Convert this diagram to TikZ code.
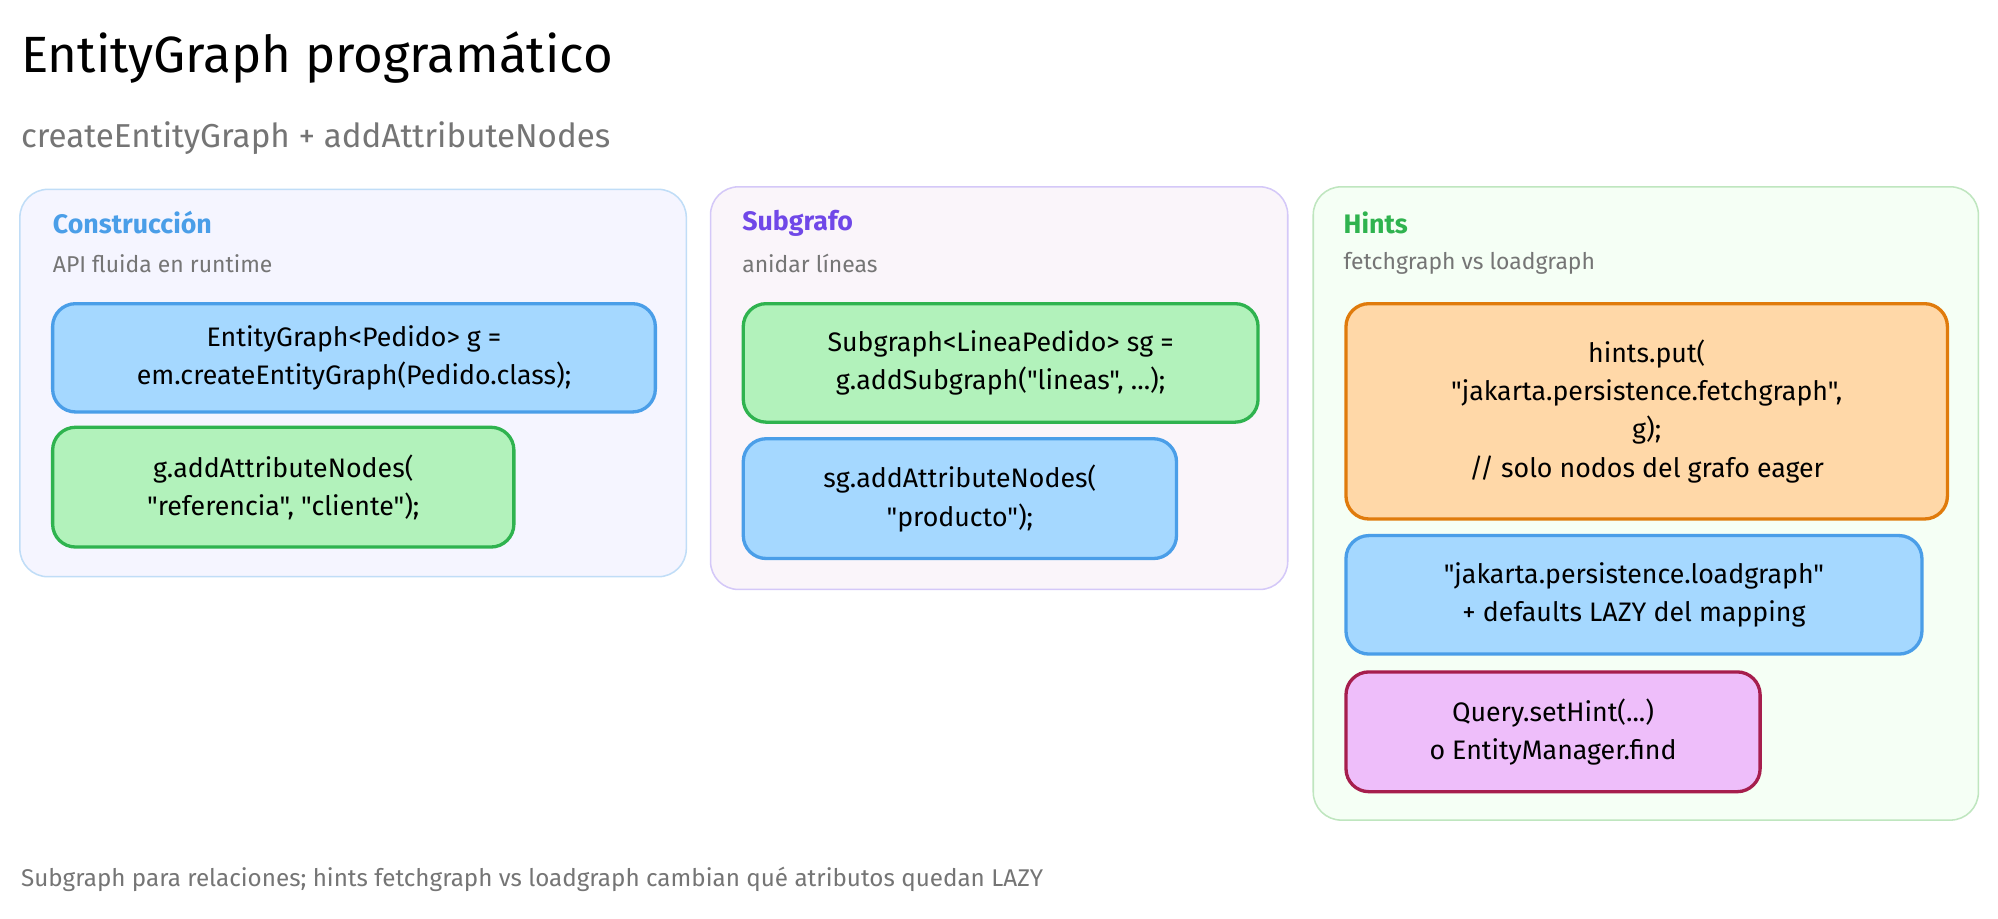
\documentclass[tikz,border=0pt]{standalone}
\usepackage{fontspec}
\setmainfont{Fira Sans}[Ligatures=TeXOff]
\usetikzlibrary{positioning}
\definecolor{bluefill}{HTML}{A5D8FF}
\definecolor{blueline}{HTML}{4A9EE8}
\definecolor{greenfill}{HTML}{B2F2BB}
\definecolor{greenline}{HTML}{2FB34F}
\definecolor{orangefill}{HTML}{FFD8A8}
\definecolor{orangeline}{HTML}{E07B0C}
\definecolor{pinkfill}{HTML}{EEBEFA}
\definecolor{pinkline}{HTML}{A61E4D}
\definecolor{violethead}{HTML}{7048E8}
\definecolor{greytext}{HTML}{757575}
\tikzset{
  panel/.style={rounded corners=22pt, line width=1.2pt, anchor=north west, inner sep=0pt},
  codebox/.style={rounded corners=18pt, line width=2.6pt, anchor=north west, align=center,
    inner sep=0pt, font=\fontsize{21}{30}\selectfont},
  bluebox/.style={codebox, fill=bluefill, draw=blueline},
  greenbox/.style={codebox, fill=greenfill, draw=greenline},
  panelhead/.style={anchor=west, font=\fontsize{21}{25}\selectfont\bfseries},
  panelsub/.style={anchor=west, text=greytext, font=\fontsize{18}{20}\selectfont}
}
\begin{document}
\begin{tikzpicture}[x=1pt, y=-1pt]
\useasboundingbox[fill=white] (0,0) rectangle (1568,721);

\node (title) [anchor=west, font=\fontsize{40}{46}\selectfont] at (13,45) {EntityGraph programático};
\node (subtitle) [anchor=west, text=greytext, font=\fontsize{26}{30}\selectfont] at (13,108) {createEntityGraph + addAttributeNodes};

% panels
\node (build) [panel, fill=blue!4, draw=blueline!35, minimum width=523pt, minimum height=304pt] at (15,148) {};
\node (sub) [panel, fill=violet!4, draw=violethead!30, minimum width=453pt, minimum height=316pt] at (557,146) {};
\node (hints) [panel, fill=green!4, draw=green!60!black!25, minimum width=522pt, minimum height=497pt] at (1030,146) {};

\node (buildhead) [panelhead, text=blueline] at (38,175) {Construcción};
\node (buildsub) [panelsub] at (38,207) {API fluida en runtime};
\node (subhead) [panelhead, text=violethead] at (579,175) {Subgrafo};
\node (subsub) [panelsub] at (579,207) {anidar líneas};
\node (hintshead) [panelhead, text=greenline] at (1051,175) {Hints};
\node (hintssub) [panelsub] at (1051,207) {fetchgraph vs loadgraph};

% code boxes
\node (create) [bluebox, minimum width=473pt, minimum height=85pt] at (40,237)
  {EntityGraph<Pedido> g =\\ em.createEntityGraph(Pedido.class);};
\node (attrs) [greenbox, minimum width=362pt, minimum height=94pt] at (40,334)
  {g.addAttributeNodes(\\ "referencia", "cliente");};
\node (subgraph) [greenbox, minimum width=404pt, minimum height=93pt] at (582,237)
  {Subgraph<LineaPedido> sg =\\ g.addSubgraph("lineas", ...);};
\node (subattrs) [bluebox, minimum width=340pt, minimum height=94pt] at (582,343)
  {sg.addAttributeNodes(\\ "producto");};
\node (fetch) [codebox, fill=orangefill, draw=orangeline, minimum width=472pt, minimum height=169pt] at (1055,237)
  {hints.put(\\ "jakarta.persistence.fetchgraph",\\ g);\\ // solo nodos del grafo eager};
\node (load) [bluebox, minimum width=452pt, minimum height=93pt] at (1055,419)
  {"jakarta.persistence.loadgraph"\\ + defaults LAZY del mapping};
\node (query) [codebox, fill=pinkfill, draw=pinkline, minimum width=325pt, minimum height=94pt] at (1055,526)
  {Query.setHint(...)\\ o EntityManager.find};

\node (footer) [anchor=west, text=greytext, font=\fontsize{19}{22}\selectfont] at (13,690)
  {Subgraph para relaciones; hints fetchgraph vs loadgraph cambian qué atributos quedan LAZY};
\end{tikzpicture}
\end{document}
